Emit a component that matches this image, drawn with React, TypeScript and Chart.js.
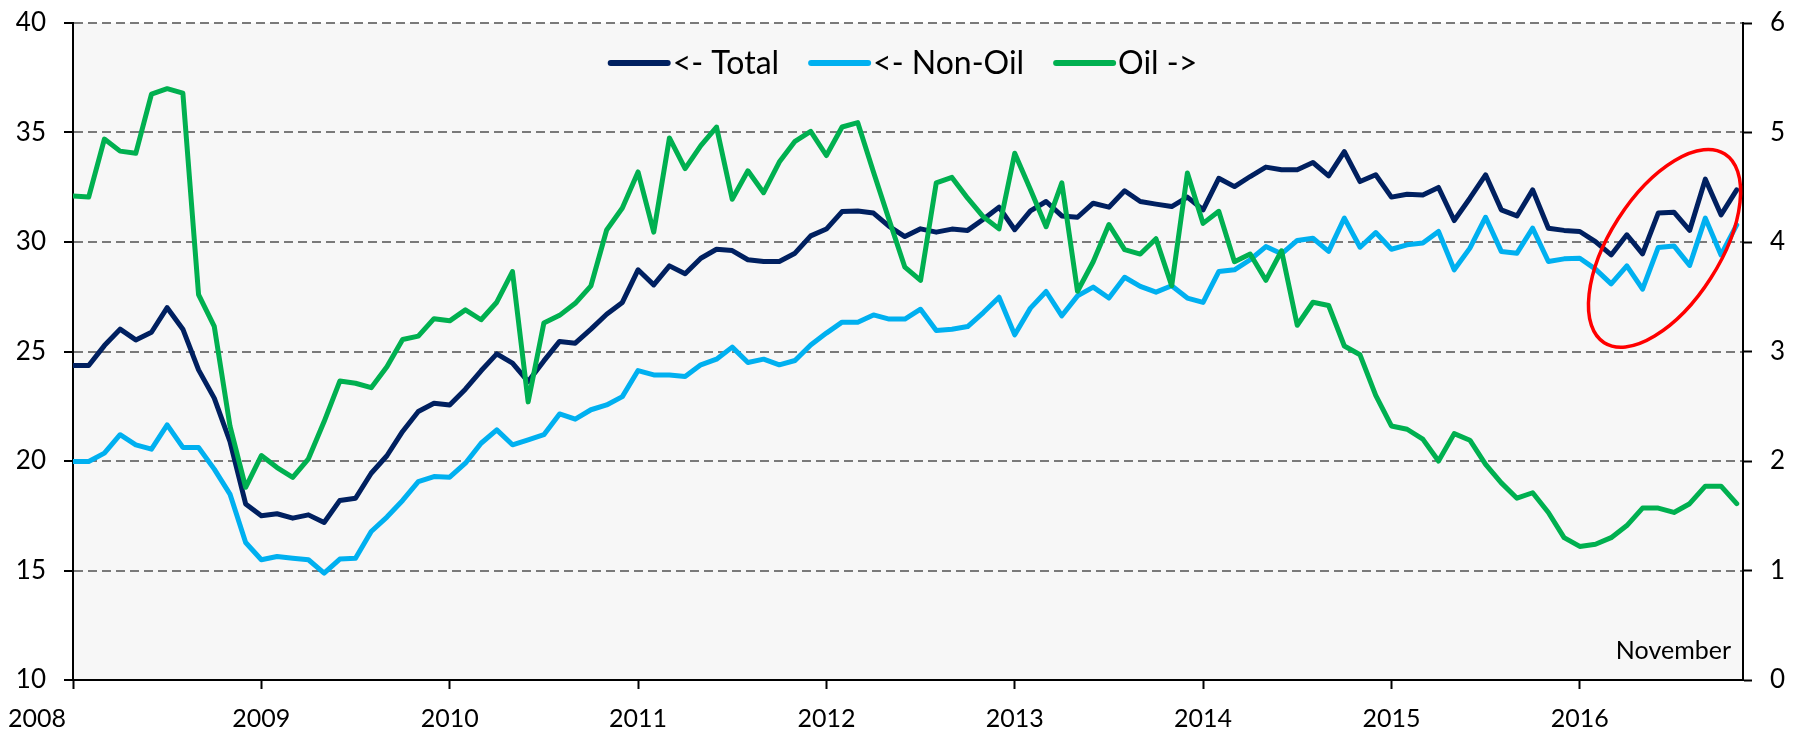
import React, { useEffect, useRef } from "react";
import { Chart, registerables } from "chart.js";

Chart.register(...registerables);

// Months since Jan 2008 (Jan 2008 .. Nov 2016)
const YEAR_LABELS = ["2008", "2009", "2010", "2011", "2012", "2013", "2014", "2015", "2016"];
const YEAR_TICK_MONTHS = [0, 12, 24, 36, 48, 60, 72, 84, 96];
const FIRST_LABEL_MONTH = -2.3; // the "2008" label sits left of its tick in the reference

const TOTAL = [
  24.36, 24.36, 25.27, 26.02, 25.53, 25.88, 27.0, 26.02, 24.16, 22.87, 20.89, 18.04,
  17.5, 17.59, 17.39, 17.54, 17.19, 18.2, 18.3, 19.44, 20.24, 21.35, 22.26, 22.64,
  22.56, 23.28, 24.12, 24.89, 24.47, 23.63, 24.57, 25.46, 25.38, 26.02, 26.7, 27.24,
  28.73, 28.04, 28.91, 28.55, 29.26, 29.67, 29.61, 29.19, 29.11, 29.11, 29.49, 30.28,
  30.59, 31.39, 31.42, 31.32, 30.71, 30.25, 30.6, 30.45, 30.59, 30.53, 31.04, 31.59,
  30.56, 31.42, 31.85, 31.19, 31.13, 31.77, 31.59, 32.34, 31.85, 31.73, 31.62, 32.05,
  31.47, 32.91, 32.53, 32.99, 33.42, 33.3, 33.3, 33.63, 33.02, 34.13, 32.76, 33.07,
  32.05, 32.18, 32.15, 32.49, 30.98, 32.0, 33.07, 31.47, 31.19, 32.38, 30.63, 30.53,
  30.48, 30.02, 29.41, 30.33, 29.46, 31.32, 31.36, 30.53, 32.87, 31.24, 32.38,
];

const NON_OIL = [
  19.98, 19.98, 20.36, 21.2, 20.74, 20.54, 21.65, 20.62, 20.62, 19.63, 18.49, 16.28,
  15.49, 15.64, 15.56, 15.49, 14.88, 15.52, 15.56, 16.78, 17.44, 18.2, 19.06, 19.29,
  19.26, 19.9, 20.81, 21.42, 20.74, 20.97, 21.2, 22.15, 21.91, 22.34, 22.56, 22.94,
  24.13, 23.93, 23.93, 23.86, 24.39, 24.65, 25.2, 24.5, 24.65, 24.39, 24.59, 25.3,
  25.84, 26.34, 26.34, 26.67, 26.48, 26.48, 26.93, 25.96, 26.02, 26.14, 26.78, 27.48,
  25.76, 26.98, 27.74, 26.63, 27.54, 27.94, 27.44, 28.39, 27.97, 27.71, 28.0, 27.44,
  27.24, 28.65, 28.73, 29.19, 29.79, 29.46, 30.07, 30.17, 29.57, 31.09, 29.76, 30.43,
  29.67, 29.87, 29.95, 30.48, 28.73, 29.72, 31.13, 29.57, 29.49, 30.63, 29.11, 29.23,
  29.26, 28.76, 28.09, 28.91, 27.85, 29.75, 29.82, 28.93, 31.09, 29.41, 30.78,
];

const OIL = [
  4.42, 4.41, 4.94, 4.83, 4.81, 5.35, 5.4, 5.36, 3.52, 3.23, 2.32, 1.76,
  2.05, 1.94, 1.85, 2.02, 2.36, 2.73, 2.71, 2.67, 2.86, 3.11, 3.14, 3.3,
  3.28, 3.38, 3.29, 3.45, 3.73, 2.54, 3.26, 3.33, 3.44, 3.6, 4.11, 4.31,
  4.64, 4.09, 4.95, 4.67, 4.88, 5.05, 4.39, 4.65, 4.45, 4.73, 4.92, 5.01,
  4.79, 5.05, 5.09, 4.64, 4.2, 3.77, 3.65, 4.54, 4.59, 4.4, 4.23, 4.12,
  4.81, 4.48, 4.14, 4.54, 3.55, 3.82, 4.16, 3.93, 3.89, 4.03, 3.6, 4.63,
  4.17, 4.28, 3.82, 3.89, 3.65, 3.92, 3.24, 3.45, 3.42, 3.05, 2.97, 2.6,
  2.32, 2.29, 2.2, 2.0, 2.25, 2.19, 1.97, 1.8, 1.66, 1.71, 1.53, 1.3,
  1.22, 1.24, 1.3, 1.41, 1.57, 1.57, 1.53, 1.61, 1.77, 1.77, 1.61,
];

const SERIES_LABELS = ["<- Total", "<- Non-Oil", "Oil ->"];
const NOTE_TEXT = "November";

const FONT = "Lato, 'Noto Sans', sans-serif";
const TICK_FONT_SIZE = 25;
const COLORS = { total: "#002060", nonOil: "#00b0f0", oil: "#00b050" };

// Highlight ellipse (annotation) placed via scales
const ELLIPSE = { month: 101.4, value: 29.71, rx: 112, ry: 55, rotationDeg: -57.4 };

const toPoints = (arr: number[]) => arr.map((y, i) => ({ x: i, y }));

const backgroundPlugin = {
  id: "plotBackground",
  beforeDraw(chart: any) {
    const { ctx, chartArea: a, width, height } = chart;
    ctx.save();
    ctx.fillStyle = "#ffffff";
    ctx.fillRect(0, 0, width, height);
    ctx.fillStyle = "#f7f7f7";
    ctx.fillRect(a.left, a.top, a.right - a.left, a.bottom - a.top);
    ctx.restore();
  },
};

// draws the first year label (offset left of its tick, as in the reference)
const firstYearLabelPlugin = {
  id: "firstYearLabel",
  afterDraw(chart: any) {
    const { ctx, scales } = chart;
    const xs = scales.x;
    const x = xs.getPixelForValue(FIRST_LABEL_MONTH);
    const y = xs.top + 9 + 15 + (TICK_FONT_SIZE * 1.2) / 2;
    ctx.save();
    ctx.font = `${TICK_FONT_SIZE}px ${FONT}`;
    ctx.fillStyle = "#000";
    ctx.textAlign = "center";
    ctx.textBaseline = "middle";
    ctx.fillText(YEAR_LABELS[0], x, y);
    ctx.restore();
  },
};

const insideLegendPlugin = {
  id: "insideLegend",
  afterDraw(chart: any) {
    const { ctx, chartArea: a } = chart;
    ctx.save();
    ctx.font = `32px ${FONT}`;
    const sample = 57;
    const gapText = 5;
    const gapItem = 32;
    const items = chart.data.datasets.map((ds: any) => ({
      text: ds.label,
      color: ds.borderColor,
      w: ctx.measureText(ds.label).width,
    }));
    const total =
      items.reduce((s: number, it: any) => s + sample + gapText + it.w, 0) + gapItem * (items.length - 1);
    let x = (a.left + a.right) / 2 - total / 2 - 4;
    const y = a.top + 40;
    for (const it of items) {
      ctx.strokeStyle = it.color;
      ctx.lineWidth = 6;
      ctx.lineCap = "round";
      ctx.beginPath();
      ctx.moveTo(x, y);
      ctx.lineTo(x + sample, y);
      ctx.stroke();
      x += sample + gapText;
      ctx.fillStyle = "#000";
      ctx.textBaseline = "middle";
      ctx.textAlign = "left";
      ctx.fillText(it.text, x, y + 1);
      x += it.w + gapItem;
    }
    ctx.restore();
  },
};

const annotationPlugin = {
  id: "annotations",
  afterDatasetsDraw(chart: any) {
    const { ctx, chartArea: a, scales } = chart;
    ctx.save();
    ctx.font = `25px ${FONT}`;
    ctx.fillStyle = "#000";
    ctx.textAlign = "right";
    ctx.textBaseline = "middle";
    ctx.fillText(NOTE_TEXT, a.right - 12, a.bottom - 29);
    const cx = scales.x.getPixelForValue(ELLIPSE.month);
    const cy = scales.y.getPixelForValue(ELLIPSE.value);
    ctx.strokeStyle = "#ff0000";
    ctx.lineWidth = 3.5;
    ctx.beginPath();
    ctx.ellipse(cx, cy, ELLIPSE.rx, ELLIPSE.ry, (ELLIPSE.rotationDeg * Math.PI) / 180, 0, Math.PI * 2);
    ctx.stroke();
    ctx.restore();
  },
};

const noPadding = (scale: any) => {
  scale.paddingLeft = 0;
  scale.paddingRight = 0;
  scale.paddingTop = 0;
  scale.paddingBottom = 0;
};

export default function App() {
  const canvasRef = useRef<HTMLCanvasElement | null>(null);

  useEffect(() => {
    if (!canvasRef.current) return;
    Chart.defaults.font.family = FONT;
    Chart.defaults.color = "#000";
    const lineBase = { borderWidth: 5, pointRadius: 0, tension: 0 };
    const chart = new Chart(canvasRef.current, {
      type: "line",
      data: {
        datasets: [
          {
            ...lineBase,
            label: SERIES_LABELS[0],
            data: toPoints(TOTAL),
            borderColor: COLORS.total,
            backgroundColor: COLORS.total,
            yAxisID: "y",
            order: 2,
          },
          {
            ...lineBase,
            label: SERIES_LABELS[1],
            data: toPoints(NON_OIL),
            borderColor: COLORS.nonOil,
            backgroundColor: COLORS.nonOil,
            yAxisID: "y",
            order: 3,
          },
          {
            ...lineBase,
            label: SERIES_LABELS[2],
            data: toPoints(OIL),
            borderColor: COLORS.oil,
            backgroundColor: COLORS.oil,
            yAxisID: "y1",
            order: 1,
          },
        ],
      },
      options: {
        responsive: false,
        animation: false,
        devicePixelRatio: 1,
        layout: { padding: { top: 23, left: 0, right: 0, bottom: 0 } },
        plugins: {
          legend: { display: false },
          tooltip: { enabled: false },
        },
        elements: { line: { borderJoinStyle: "round", borderCapStyle: "round" } },
        scales: {
          x: {
            type: "linear",
            min: 0,
            max: 106.4,
            afterBuildTicks: (scale: any) => {
              scale.ticks = YEAR_TICK_MONTHS.map((v) => ({ value: v }));
            },
            afterFit: (scale: any) => {
              scale.height = 54;
              noPadding(scale);
            },
            ticks: {
              autoSkip: false,
              maxRotation: 0,
              font: { size: TICK_FONT_SIZE },
              padding: 15,
              callback: (_v: any, i: number) => (i === 0 ? "" : YEAR_LABELS[i] || ""),
            },
            grid: {
              drawOnChartArea: false,
              drawTicks: true,
              tickLength: 9,
              tickColor: "#000",
              tickWidth: 2,
            },
            border: { display: true, color: "#000", width: 2 },
          },
          y: {
            position: "left",
            min: 10,
            max: 40,
            afterFit: (scale: any) => {
              scale.width = 73;
              noPadding(scale);
            },
            ticks: { stepSize: 5, font: { size: 26 }, padding: 18 },
            grid: {
              color: "#7a7a7a",
              lineWidth: 2,
              drawTicks: true,
              tickLength: 9,
              tickColor: "#000",
              tickWidth: 2,
            },
            border: { display: true, color: "#000", width: 2, dash: [9, 5] },
          },
          y1: {
            position: "right",
            min: 0,
            max: 6,
            afterFit: (scale: any) => {
              scale.width = 50;
              noPadding(scale);
            },
            ticks: { stepSize: 1, font: { size: 26 }, padding: 18 },
            grid: {
              drawOnChartArea: false,
              drawTicks: true,
              tickLength: 9,
              tickColor: "#000",
              tickWidth: 2,
            },
            border: { display: true, color: "#000", width: 2 },
          },
        },
      },
      plugins: [backgroundPlugin, insideLegendPlugin, annotationPlugin, firstYearLabelPlugin],
    } as any);
    return () => chart.destroy();
  }, []);

  return (
    <div style={{ position: "absolute", left: 0, top: 0, width: 1793, height: 734, background: "#fff" }}>
      <canvas ref={canvasRef} width={1793} height={734} style={{ display: "block" }} />
    </div>
  );
}
